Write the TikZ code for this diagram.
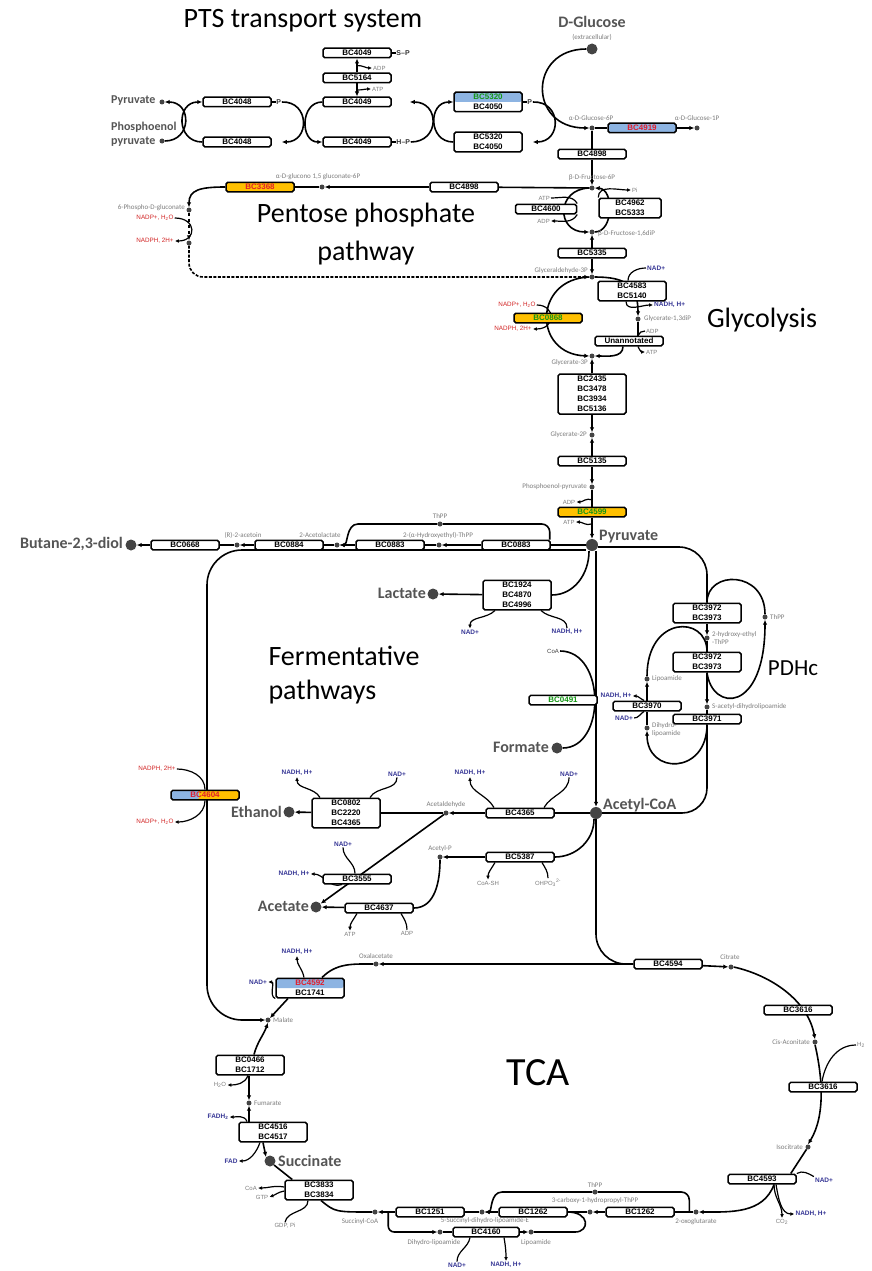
\documentclass[tikz,border=0pt]{standalone}
\usepackage{fontspec}
\setmainfont{Carlito}
\newfontfamily\arialfont{Liberation Sans}
\usetikzlibrary{arrows.meta,calc,positioning}
\pgfdeclarelayer{bg}
\pgfsetlayers{bg,main}
\definecolor{enzblue}{RGB}{141,180,226}
\definecolor{enzorange}{RGB}{255,192,0}
\definecolor{hitred}{RGB}{225,30,45}
\definecolor{hitgreen}{RGB}{20,150,20}
\definecolor{cofblue}{RGB}{55,55,150}
\definecolor{cofred}{RGB}{210,35,35}
\definecolor{metgray}{RGB}{85,85,85}
\definecolor{lblgray}{RGB}{125,125,125}
\definecolor{dotgray}{RGB}{68,68,68}

\begin{document}
\begin{tikzpicture}[x=1pt,y=1pt,
  enz/.style={draw,line width=1.5pt,rounded corners=1.8pt,fill=white,minimum width=68pt,minimum height=9.5pt,inner sep=0pt,align=center,font=\arialfont\bfseries\fontsize{8}{10}\selectfont},
  enz2/.style={enz,minimum height=19.5pt},
  enz3/.style={enz,minimum height=29.5pt},
  met/.style={circle,fill=dotgray,inner sep=0pt,minimum size=5pt},
  bigmet/.style={circle,fill=dotgray,inner sep=0pt,minimum size=12pt},
  metname/.style={text=metgray,font=\bfseries\fontsize{16}{18}\selectfont,inner sep=1pt},
  ptsname/.style={text=metgray,font=\bfseries\fontsize{12}{14}\selectfont,inner sep=1pt},
  sml/.style={text=lblgray,font=\fontsize{7}{8}\selectfont,inner sep=1pt},
  cofg/.style={text=lblgray,font=\arialfont\fontsize{6}{7}\selectfont,inner sep=1pt},
  cofb/.style={text=cofblue,font=\arialfont\bfseries\fontsize{6.5}{7}\selectfont,inner sep=1pt},
  cofr/.style={text=cofred,font=\arialfont\fontsize{6.3}{7}\selectfont,inner sep=1pt},
  ptag/.style={text=black!80,font=\arialfont\bfseries\fontsize{7}{8}\selectfont,inner sep=0.5pt},
  ttl/.style={align=center,font=\fontsize{28}{38}\selectfont},
  flow/.style={line width=1.6pt},
  arr/.style={flow,-{Latex[length=5pt,width=4.5pt]}},
  cof/.style={line width=1.2pt},
  cofarr/.style={cof,-{Latex[length=4pt,width=3.8pt]}},
  blueup/.style={path picture={\fill[enzblue] (path picture bounding box.north west) rectangle (path picture bounding box.east);}},
  blueleft/.style={path picture={\fill[enzblue] (path picture bounding box.south west) rectangle ([xshift=-6pt]path picture bounding box.north);}}]
  \useasboundingbox (0,0) rectangle (872,-1271);

  \node[ttl] (tpts) at (303,-21) {PTS transport system};
  \node[enz] (e4049a) at (357,-53) {BC4049}; \node[enz] (e5164) at (357,-78) {BC5164};
  \node[enz] (e4049b) at (357,-102) {BC4049}; \node[enz] (e4049c) at (357,-142) {BC4049};
  \node[enz] (e4048a) at (237,-102) {BC4048}; \node[enz] (e4048b) at (237,-142) {BC4048};
  \node[enz2,blueup] (e5320a) at (488,-102) {\textcolor{hitgreen}{BC5320}\\BC4050};
  \node[enz2] (e5320b) at (488,-142) {BC5320\\BC4050};
  \node[ptag,right=4pt of e4049a] (sp) {S–P}; \node[ptag,right=4pt of e4048a] (p4048) {P};
  \node[ptag,right=4pt of e4049c] (hp) {H–P}; \node[ptag,right=4pt of e5320a] (p5320) {P};
  \node[cofg,anchor=west] (adp1) at (372,-68) {ADP}; \node[cofg,anchor=west] (atp1) at (371,-89) {ATP};
  \node[met] (pyr0) at (162,-102) {}; \node[met] (pep0) at (162,-141) {};
  \node[ptsname,anchor=west] (tpyr0) at (110,-101) {Pyruvate};
  \node[ptsname,anchor=west,align=left,font=\bfseries\fontsize{12}{14}\selectfont] (tpep0) at (110,-134) {Phosphoenol\\pyruvate};

  \node[text=metgray,font=\bfseries\fontsize{16}{18}\selectfont] (tglc) at (592,-22) {D-Glucose};
  \node[sml] (textra) at (592,-37) {(extracellular)};
  \node[bigmet,minimum size=11pt] (glc) at (592,-49) {};
  \node[met] (g6p) at (592,-128) {}; \node[sml] (tg6p) at (591,-118) {α-D-Glucose-6P};
  \node[enz,fill=enzblue,text=hitred] (e4919) at (642,-128) {BC4919};
  \node[met] (g1p) at (697,-128) {}; \node[sml] (tg1p) at (697,-118) {α-D-Glucose-1P};
  \node[enz] (e4898a) at (592,-154) {BC4898};

  \node[met] (f6p) at (592,-188) {}; \node[sml] (tf6p) at (592,-178) {β-D-Fructose-6P};
  \node[enz] (e4898b) at (464,-187) {BC4898};
  \node[met] (gl6p) at (322,-187) {}; \node[sml] (tgl6p) at (318,-177) {α-D-glucono 1,5 gluconate-6P};
  \node[enz,fill=enzorange,text=hitred] (e3368) at (260,-187) {BC3368};
  \node[met] (pg6) at (189,-210) {}; \node[sml,anchor=east] (tpg6) at (186,-208) {6-Phospho-D-gluconate};
  \node[cofr] (nadp1) at (155,-218) {NADP+, H\textsubscript{2}O}; \node[cofr] (nadph1) at (155,-241) {NADPH, 2H+};
  \node[met] (ru5p) at (189,-243) {};
  \node[ttl] (tppp) at (366,-234) {Pentose phosphate\\pathway};

  \node[enz,minimum width=61pt] (e4600) at (546,-209) {BC4600};
  \node[enz2,minimum width=62pt] (e4962) at (630,-208) {BC4962\\BC5333};
  \node[cofg,anchor=east] (atp2) at (551,-198) {ATP}; \node[cofg,anchor=east] (adp2) at (551,-221) {ADP};
  \node[cofg,anchor=west] (pi2) at (631,-190) {Pi};
  \node[met] (f16) at (592,-232) {}; \node[sml,anchor=west] (tf16) at (597,-234) {β-D-Fructose-1,6diP};
  \node[enz] (e5335) at (592,-253) {BC5335};
  \node[met] (g3p) at (592,-277) {}; \node[sml,anchor=east] (tg3p) at (589,-271) {Glyceraldehyde-3P};
  \node[enz2] (e4583) at (632,-291) {BC4583\\BC5140};
  \node[cofb,anchor=west] (nad1) at (646,-268) {NAD+}; \node[cofb,anchor=west] (nadh1) at (653,-305) {NADH, H+};
  \node[met] (bpg) at (638,-319) {}; \node[sml,anchor=west] (tbpg) at (643,-319) {Glycerate-1,3diP};
  \node[enz,fill=enzorange,text=hitgreen] (e0868) at (548,-318) {BC0868};
  \node[cofr] (nadp2) at (517,-305) {NADP+, H\textsubscript{2}O}; \node[cofr] (nadph2) at (513,-329) {NADPH, 2H+};
  \node[enz] (eun) at (629,-341) {Unannotated};
  \node[cofg,anchor=west] (adp3) at (645,-331) {ADP}; \node[cofg,anchor=west] (atp3) at (645,-352) {ATP};
  \node[met] (pg3) at (592,-356) {}; \node[sml,anchor=east] (tpg3) at (589,-363) {Glycerate-3P};
  \node[enz,minimum height=40pt] (e2435) at (592,-394) {BC2435\\BC3478\\BC3934\\BC5136};
  \node[met] (pg2) at (592,-435) {}; \node[sml,anchor=east] (tpg2) at (588,-435) {Glycerate-2P};
  \node[enz] (e5135) at (592,-461) {BC5135};
  \node[met] (pep) at (592,-487) {}; \node[sml,anchor=east] (tpep) at (588,-487) {Phosphoenol-pyruvate};
  \node[enz,fill=enzorange,text=hitgreen] (e4599) at (592,-512) {BC4599};
  \node[cofg] (adp4) at (569,-502) {ADP}; \node[cofg] (atp4) at (569,-522) {ATP};
  \node[bigmet] (pyr) at (592,-545) {}; \node[metname,anchor=west] (tpyr) at (598,-537) {Pyruvate};
  \node[ttl] (tgly) at (762,-320) {Glycolysis};

  \node[metname,anchor=east] (tbdl) at (124,-544) {Butane-2,3-diol};
  \node[bigmet,minimum size=11pt] (bdl) at (131,-545) {};
  \node[enz] (e0668) at (185,-545) {BC0668};
  \node[met] (acn) at (237,-545) {}; \node[sml] (tacn) at (243,-535) {(R)-2-acetoin};
  \node[enz] (e0884) at (289,-545) {BC0884};
  \node[met] (acl) at (337,-545) {}; \node[sml] (tacl) at (320,-535) {2-Acetolactate};
  \node[enz] (e0883a) at (390,-545) {BC0883};
  \node[met] (het) at (439,-545) {}; \node[sml] (thet) at (438,-535) {2-(α-Hydroxyethyl)-ThPP};
  \node[enz] (e0883b) at (516,-545) {BC0883};
  \node[met] (thpp1) at (440,-524) {}; \node[sml] (tthpp1) at (440,-516) {ThPP};

  \node[enz3] (e1924) at (517,-595) {BC1924\\BC4870\\BC4996};
  \node[bigmet,minimum size=11pt] (lac) at (433,-594) {}; \node[metname,anchor=east] (tlac) at (427,-593) {Lactate};
  \node[cofb] (nad5) at (470,-632) {NAD+}; \node[cofb] (nadh5) at (567,-632) {NADH, H+};
  \node[ttl,align=left,anchor=west,font=\fontsize{28}{34}\selectfont] (tferm) at (265,-675) {Fermentative\\pathways};
  \node[cofg,text=black!75] (coa6) at (553,-651) {CoA};
  \node[enz,text=hitgreen] (e0491) at (563,-700) {BC0491};
  \node[bigmet,minimum size=11pt] (fmt) at (557,-748) {}; \node[metname,anchor=east] (tfmt) at (550,-747) {Formate};

  \node[enz2] (e3972a) at (707,-613) {BC3972\\BC3973};
  \node[met] (het2) at (707,-638) {}; \node[sml,anchor=west,align=left] (thet2) at (711,-638) {2-hydroxy-ethyl\\-ThPP};
  \node[enz2] (e3972b) at (707,-662) {BC3972\\BC3973};
  \node[met] (sadl) at (707,-707) {}; \node[sml,anchor=west] (tsadl) at (711,-707) {S-acetyl-dihydrolipoamide};
  \node[enz] (e3971) at (707,-719) {BC3971};
  \node[met] (thpp3) at (765,-617) {}; \node[sml,anchor=west] (tthpp3) at (769,-617) {ThPP};
  \node[ttl,font=\fontsize{23}{28}\selectfont] (tpdh) at (793,-668) {PDHc};
  \node[met] (lip3) at (647,-679) {}; \node[sml,anchor=west] (tlip3) at (651,-679) {Lipoamide};
  \node[enz] (e3970) at (647,-706) {BC3970};
  \node[met] (dhl3) at (647,-728) {}; \node[sml,anchor=west,align=left] (tdhl3) at (651,-730) {Dihydro-\\lipoamide};
  \node[cofb] (nadh3) at (616,-696) {NADH, H+}; \node[cofb] (nad3) at (624,-718) {NAD+};

  \node[bigmet] (acoa) at (596,-813) {}; \node[metname,anchor=west] (tacoa) at (602,-805) {Acetyl-CoA};
  \node[enz] (e4365a) at (520,-813) {BC4365};
  \node[met] (acald) at (446,-813) {}; \node[sml] (tacald) at (446,-805) {Acetaldehyde};
  \node[cofb] (nadh7) at (470,-773) {NADH, H+}; \node[cofb] (nad7) at (569,-774) {NAD+};
  \node[enz3] (e0802) at (346,-813) {BC0802\\BC2220\\BC4365};
  \node[bigmet,minimum size=11pt] (eth) at (289,-812) {}; \node[metname,anchor=east] (teth) at (283,-812) {Ethanol};
  \node[cofb] (nadh8) at (297,-773) {NADH, H+}; \node[cofb] (nad8) at (397,-774) {NAD+};
  \node[enz] (e5387) at (520,-857) {BC5387};
  \node[met] (acp) at (440,-857) {}; \node[sml] (tacp) at (440,-849) {Acetyl-P};
  \node[cofg] (coash) at (488,-883) {CoA-SH}; \node[cofg] (ohpo) at (548,-883) {OHPO\textsubscript{3}\textsuperscript{2-}};
  \node[enz] (e3555) at (357,-879) {BC3555};
  \node[cofb] (nad9) at (343,-844) {NAD+}; \node[cofb] (nadh9) at (294,-874) {NADH, H+};
  \node[bigmet,minimum size=11pt] (ace) at (316,-907) {}; \node[metname,anchor=east] (tace) at (310,-906) {Acetate};
  \node[enz] (e4637) at (379,-908) {BC4637};
  \node[cofg] (atp9) at (350,-934) {ATP}; \node[cofg] (adp9) at (407,-933) {ADP};
  \node[enz,fill=enzorange,text=hitred,blueleft] (e4604) at (205,-795) {BC4604};
  \node[cofr] (nadph4) at (157,-769) {NADPH, 2H+}; \node[cofr] (nadp4) at (155,-822) {NADP+, H\textsubscript{2}O};

  \node[enz] (e4594) at (668,-964) {BC4594};
  \node[met] (oaa) at (376,-964) {}; \node[sml] (toaa) at (376,-956) {Oxalacetate};
  \node[met] (cit) at (731,-967) {}; \node[sml] (tcit) at (730,-957) {Citrate};
  \node[enz] (e3616a) at (798,-1010) {BC3616};
  \node[met] (cis) at (815,-1042) {}; \node[sml,anchor=east] (tcis) at (811,-1042) {Cis-Aconitate};
  \node[cofg,anchor=west] (h2o10) at (856,-1045) {H\textsubscript{2}};
  \node[enz] (e3616b) at (823,-1087) {BC3616};
  \node[met] (isc) at (808,-1147) {}; \node[sml,anchor=east] (tisc) at (804,-1147) {Isocitrate};
  \node[enz] (e4593) at (762,-1179) {BC4593};
  \node[cofb] (nad10) at (824,-1180) {NAD+}; \node[cofg] (co2) at (782,-1222) {CO\textsubscript{2}};
  \node[cofb] (nadh10) at (811,-1214) {NADH, H+};
  \node[met] (og) at (696,-1212) {}; \node[sml] (tog) at (696,-1222) {2-oxoglutarate};
  \node[enz] (e1262a) at (640,-1212) {BC1262};
  \node[met] (cth) at (590,-1212) {};
  \node[met] (thpp2) at (595,-1192) {}; \node[sml] (tthpp2) at (595,-1185) {ThPP};
  \node[sml] (tcth) at (595,-1201) {3-carboxy-1-hydropropyl-ThPP};
  \node[enz] (e1262b) at (533,-1212) {BC1262};
  \node[met] (sdl) at (482,-1212) {}; \node[sml] (tsdl) at (485,-1221) {5-Succinyl-dihydro-lipoamide-E};
  \node[enz] (e1251) at (430,-1212) {BC1251};
  \node[met] (scoa) at (375,-1212) {}; \node[sml] (tscoa) at (360,-1222) {Succinyl-CoA};
  \node[met] (dhl) at (440,-1232) {}; \node[sml] (tdhl) at (434,-1243) {Dihydro-lipoamide};
  \node[enz,minimum width=66pt] (e4160) at (486,-1232) {BC4160};
  \node[met] (lip) at (531,-1232) {}; \node[sml] (tlip) at (536,-1243) {Lipoamide};
  \node[cofb] (nad11) at (457,-1265) {NAD+}; \node[cofb] (nadh11) at (506,-1265) {NADH, H+};
  \node[enz2] (e3833) at (319,-1190) {BC3833\\BC3834};
  \node[cofg] (coa12) at (251,-1188) {CoA}; \node[cofg] (gtp12) at (262,-1197) {GTP};
  \node[cofg] (gdp12) at (285,-1226) {GDP, Pi};
  \node[bigmet,minimum size=11pt] (suc) at (270,-1161) {}; \node[metname,anchor=west] (tsuc) at (277,-1161) {Succinate};
  \node[enz2] (e4516) at (273,-1132) {BC4516\\BC4517};
  \node[cofb] (fad) at (231,-1161) {FAD}; \node[cofb] (fadh) at (218,-1117) {FADH\textsubscript{2}};
  \node[met] (fum) at (249,-1103) {}; \node[sml,anchor=west] (tfum) at (253,-1103) {Fumarate};
  \node[enz2] (e0466) at (250,-1065) {BC0466\\BC1712};
  \node[cofg] (h2o12) at (220,-1085) {H\textsubscript{2}O};
  \node[met] (mal) at (268,-1020) {}; \node[sml,anchor=west] (tmal) at (272,-1020) {Malate};
  \node[enz2,blueup] (e4592) at (310,-988) {\textcolor{hitred}{BC4592}\\BC1741};
  \node[cofb] (nadh12) at (297,-952) {NADH, H+}; \node[cofb] (nad12) at (258,-982) {NAD+};
  \node[ttl,font=\fontsize{40}{44}\selectfont] (ttca) at (538,-1073) {TCA};

  \begin{pgfonlayer}{bg}
  \fill[white] (0,0) rectangle (872,-1271);
  \draw[arr] (e5164) -- (e4049a); \draw[arr] (e5164) -- (e4049b);
  \draw[cofarr] ($(e5164.north)!.5!(e4049a.south)$) to[out=0,in=180] (adp1.west);
  \draw[cofarr] ($(e5164.south)!.5!(e4049b.north)$) to[out=0,in=180] (atp1.west);
  \draw[flow] (e4049a) -- (sp); \draw[flow] (e4048a) -- (p4048); \draw[flow] (e4049c) -- (hp); \draw[flow] (e5320a) -- (p5320);
  \draw[arr] (pep0.east) .. controls (192,-141) and (192,-102) .. (pyr0.east);
  \draw[arr] (e4048b.west) .. controls (176,-142) and (176,-102) .. (e4048a.west);
  \draw[arr,shorten >=10pt] (p4048.east) .. controls (310,-101) and (310,-142) .. (e4048b.east);
  \draw[arr] (e4049b.west) .. controls (300,-102) and (300,-142) .. (e4049c.west);
  \draw[arr,shorten >=18pt] (hp.east) .. controls (440,-142) and (440,-102) .. (e4049b.east);
  \draw[arr] (e5320b.west) .. controls (428,-142) and (428,-102) .. (e5320a.west);
  \draw[arr,shorten >=10pt] (p5320.east) .. controls (562,-101) and (562,-142) .. (e5320b.east);
  \draw[arr] (glc.west) .. controls (528,-49) and (528,-128) .. (g6p.west);
  \draw[flow] (g6p) -- (e4919); \draw[arr] (e4919) -- (g1p);
  \draw[flow] (g6p) -- (e4898a); \draw[arr] (e4898a) -- (f6p);

  \draw[flow] (f6p) -- (e4898b); \draw[arr] (e4898b) -- (gl6p); \draw[flow] (gl6p) -- (e3368);
  \draw[arr] (e3368.west) .. controls (200,-187) and (189,-190) .. (pg6.north);
  \draw[cofarr] (nadp1.east) .. controls (197,-218) and (197,-241) .. (nadph1.east);
  \draw[arr,dashed] (pg6) -- (ru5p);
  \draw[arr,dash pattern=on 3pt off 1.5pt,rounded corners=14pt] (ru5p.south) |- (g3p.west);

  \draw[arr] (f6p.west) .. controls (556,-189) and (556,-232) .. (f16.west);
  \draw[cof] (atp2.east) to[out=0,in=120] (e4600.north east);
  \draw[cofarr] (e4600.south east) to[out=240,in=0] (adp2.east);
  \draw[arr] (f16.east) .. controls (614,-232) and (614,-189) .. (f6p.east);
  \draw[cofarr] (e4962.north west) to[out=90,in=180] (pi2.west);
  \draw[arr] (e5335) -- (f16); \draw[arr] (e5335) -- (g3p);
  \draw[arr] (g3p.east) .. controls (625,-277) and (638,-285) .. (bpg.north);
  \draw[cof] (nad1.west) to[out=180,in=90] ([xshift=-4pt]e4583.north);
  \draw[cofarr] ([xshift=-6pt]e4583.south) to[out=270,in=180] (nadh1.west);
  \draw[flow] (bpg) -- (eun.north -| bpg);
  \draw[cof] (adp3.west) to[out=180,in=70] (eun.north -| bpg);
  \draw[cofarr] (eun.south -| bpg) to[out=290,in=180] (atp3.west);
  \draw[arr] ([xshift=-6pt]eun.south) to[out=270,in=0] (pg3.east);
  \draw[arr] (g3p.west) .. controls (533,-279) and (533,-354) .. (pg3.west);
  \draw[cofarr] (nadp2.east) .. controls (556,-305) and (556,-329) .. (nadph2.east);
  \draw[arr] (e2435) -- (pg3); \draw[arr] (e2435) -- (pg2);
  \draw[arr] (e5135) -- (pg2); \draw[arr] (e5135) -- (pep);
  \draw[flow] (pep) -- (e4599); \draw[arr] (e4599) -- (pyr);
  \draw[cofarr] ($(pep.south)!.6!(e4599.north)$) to[out=160,in=0] (adp4.east);
  \draw[cofarr] ($(e4599.south)!.3!(pyr.north)$) to[out=200,in=0] (atp4.east);

  \draw[flow] (pyr.west) -- (e0883b); \draw[arr] (e0883b) -- (het); \draw[flow] (het) -- (e0883a);
  \draw[arr] (e0883a) -- (acl); \draw[flow] (acl) -- (e0884); \draw[arr] (e0884) -- (acn);
  \draw[flow] (acn) -- (e0668); \draw[arr] (e0668) -- (bdl);
  \draw[flow,rounded corners=8pt] ([xshift=-1pt]e0883b.north east) |- (thpp1.east);
  \draw[arr] (thpp1.west) -- (358,-524) .. controls (346,-524) and (348,-545) .. (acl.east);
  \draw[arr,rounded corners=35pt] ([yshift=-5pt]pyr.west) -| (207,-700) |- (mal.west);
  \draw[flow] ([xshift=-3pt]pyr.south) to[out=270,in=0] (e1924.east);
  \draw[arr] (pyr.south -| acoa.north) -- (acoa.north);
  \draw[flow,rounded corners=28pt] ([yshift=-2pt]pyr.east) -| (e3972a.north);
  \draw[arr] (e1924) -- (lac);
  \draw[cofarr] ([xshift=-22pt]e1924.south) to[out=225,in=90] (nad5.north);
  \draw[cof] (nadh5.north) to[out=90,in=315] ([xshift=24pt]e1924.south);
  \draw[flow] (coa6.east) .. controls (606,-651) and (606,-748) .. (fmt.east);

  \draw[arr] (e3972a) -- (het2); \draw[flow] (het2) -- (e3972b);
  \draw[arr] (e3972b) -- (sadl); \draw[flow] (sadl) -- (e3971);
  \draw[arr] (e3972b.south) .. controls (712,-712) and (765,-714) .. (thpp3.south);
  \draw[flow] (thpp3.north) .. controls (765,-570) and (707,-570) .. (e3972a.north);
  \draw[flow] (lip3.north) .. controls (647,-615) and (707,-615) .. (e3972b.north);
  \draw[arr] (e3971.south) .. controls (707,-775) and (647,-775) .. (dhl3.south);
  \draw[flow,rounded corners=25pt] (e3971.south) |- (acoa.east);
  \draw[arr] (e3970) -- (lip3); \draw[flow] (dhl3) -- (e3970);
  \draw[cofarr] ([xshift=-3pt]e3970.north) to[out=150,in=0] (nadh3.east);
  \draw[cof] (nad3.east) to[out=0,in=210] ([xshift=-3pt]e3970.south);

  \draw[flow] (acoa) -- (e4365a); \draw[arr] (e4365a) -- (acald);
  \draw[flow] (acald) -- (e0802); \draw[arr] (e0802) -- (eth);
  \draw[cofarr] ([xshift=-26pt]e4365a.north) to[out=120,in=270] (nadh7.south);
  \draw[cof] (nad7.south) to[out=270,in=60] ([xshift=24pt]e4365a.north);
  \draw[cofarr] ([xshift=-26pt]e0802.north) to[out=120,in=270] (nadh8.south);
  \draw[cof] (nad8.south) to[out=270,in=60] ([xshift=24pt]e0802.north);
  \draw[flow] ([xshift=-2pt]acoa.south) to[out=270,in=0] (e5387.east);
  \draw[arr] (e5387) -- (acp);
  \draw[cofarr] ([xshift=-25pt]e5387.south) to[out=240,in=90] (coash.north);
  \draw[cof] (ohpo.north) to[out=90,in=300] ([xshift=22pt]e5387.south);
  \draw[arr] (acald) -- (ace);
  \draw[cof] (nad9.south) to[out=270,in=90] ([xshift=-2pt]e3555.north);
  \draw[cofarr] ([xshift=-15pt]e3555.south) to[out=200,in=0] (nadh9.east);
  \draw[arr] (e4637) -- (ace);
  \draw[flow] (acp.south) to[out=270,in=0] (e4637.east);
  \draw[cofarr] ([xshift=-22pt]e4637.south) to[out=240,in=90] (atp9.north);
  \draw[cof] (adp9.north) to[out=90,in=300] ([xshift=22pt]e4637.south);
  \draw[cof] (nadph4.east) to[out=0,in=90] (e4604.north);
  \draw[cofarr] (e4604.south) to[out=270,in=0] (nadp4.east);

  \draw[flow,rounded corners=30pt] (acoa.south) |- (e4594.west);
  \draw[arr] (e4594) -- (oaa); \draw[arr] (e4594) -- (cit);
  \draw[arr] (cit.east) .. controls (770,-975) and (808,-1000) .. (cis.north);
  \draw[arr] (cis.south) .. controls (822,-1075) and (826,-1115) .. (isc.north);
  \draw[cof] (h2o10.west) to[out=180,in=80] ([xshift=-1pt]e3616b.north);
  \draw[flow] (isc) -- ([xshift=-6pt]e4593.north east);
  \draw[cof] (nad10.north west) to[out=150,in=30] (e4593.north east);
  \draw[cofarr] ([xshift=12pt]e4593.south) to[out=270,in=90] (co2.north);
  \draw[cofarr] ([xshift=14pt]e4593.south) to[out=280,in=180] (nadh10.west);
  \draw[arr] ([xshift=12pt]e4593.south) to[out=250,in=0] (og.east);
  \draw[flow] (og) -- (e1262a); \draw[arr] (e1262a) -- (cth); \draw[flow] (cth) -- (e1262b);
  \draw[arr] (e1262b) -- (sdl); \draw[flow] (sdl) -- (e1251); \draw[arr] (e1251) -- (scoa);
  \draw[flow,rounded corners=8pt] ($(og.west)+(-4,0)$) |- (thpp2.east);
  \draw[arr] (thpp2.west) -- (502,-1192) .. controls (490,-1192) and (492,-1212) .. (sdl.east);
  \draw[flow] ([xshift=2pt]e3833.south) .. controls (335,-1212) .. (scoa.west);
  \draw[arr,rounded corners=6pt] ($(e1251.west)+(-7,0)$) |- (dhl.west);
  \draw[flow] (dhl) -- (e4160); \draw[arr] (e4160) -- (lip);
  \draw[flow] (lip.east) -- (575,-1232) .. controls (590,-1232) and (590,-1212) .. (e1262b.east);
  \draw[cof] (nad11.north) to[out=90,in=260] ([xshift=-16pt]e4160.south);
  \draw[cofarr] ([xshift=18pt]e4160.south) to[out=280,in=90] (nadh11.north);
  \draw[flow] (suc.south east) -- ([xshift=8pt]e3833.north west);
  \draw[cofarr] ([yshift=3pt]e3833.west) to[out=170,in=0] (coa12.east);
  \draw[cofarr] ([yshift=-1pt]e3833.west) to[out=190,in=20] (gtp12.east);
  \draw[cof] (gdp12.north) to[out=80,in=270] ([xshift=-11pt]e3833.south);
  \draw[arr] ([xshift=-10pt]e4516.south) -- (suc.north west);
  \draw[cofarr] ([xshift=-13pt]e4516.south) to[out=250,in=0] (fad.east);
  \draw[arr] ([xshift=-24pt]e4516.north) -- (fum.south);
  \draw[cofarr] ([xshift=-26pt]e4516.north) to[out=110,in=0] (fadh.east);
  \draw[arr] ([xshift=-1pt]e0466.south) -- (fum.north);
  \draw[cofarr] ([xshift=-2pt]e0466.south) to[out=250,in=0] (h2o12.east);
  \draw[arr] ([xshift=4pt]e0466.north) to[out=75,in=250] (mal.south);
  \draw[arr] ([xshift=-22pt]e4592.south) -- (mal.north east);
  \draw[cofarr] (e4592.south west) to[out=160,in=0] (nad12.east);
  \draw[cofarr] ([xshift=-6pt]e4592.north) to[out=100,in=270] (nadh12.south);
  \draw[flow] (oaa.west) to[out=180,in=45] ([xshift=12pt]e4592.north);
  \end{pgfonlayer}
\end{tikzpicture}
\end{document}
